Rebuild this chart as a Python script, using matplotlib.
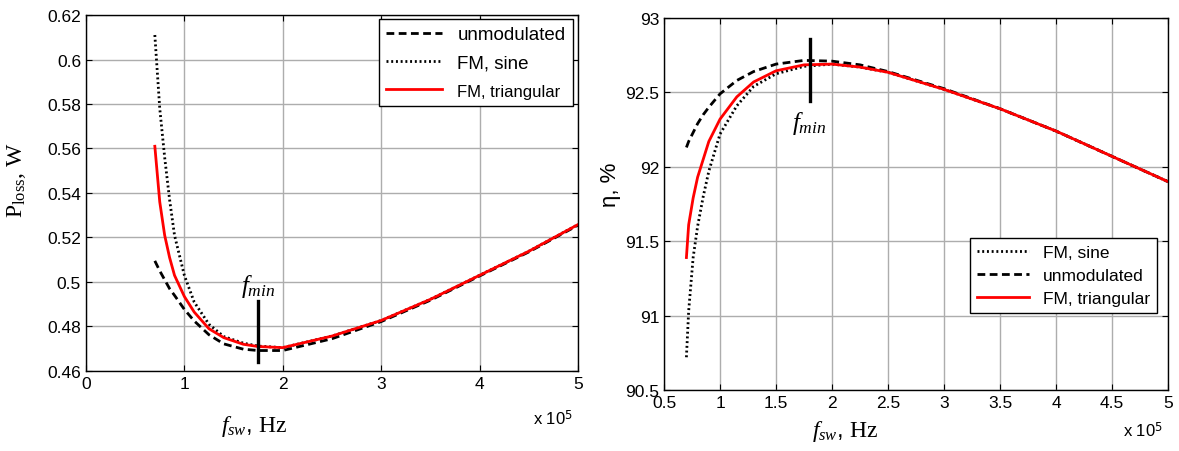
import matplotlib
matplotlib.use("Agg")
import matplotlib.pyplot as plt

plt.rcParams['font.family'] = ['Liberation Sans', 'DejaVu Sans']
plt.rcParams['mathtext.fontset'] = 'custom'
plt.rcParams['mathtext.rm'] = 'Liberation Serif'
plt.rcParams['mathtext.it'] = 'Liberation Serif:italic'

# f_sw in units of 1e5 Hz
f_left = [0.70, 0.75, 0.80, 0.85, 0.90, 1.0, 1.1, 1.25, 1.4, 1.6, 1.75, 2.0, 2.5, 3.0, 3.5, 4.0, 4.5, 5.0]
ploss_unmod = [0.5095, 0.505, 0.501, 0.497, 0.494, 0.4877, 0.4825, 0.4763, 0.4722, 0.4698, 0.4692, 0.4692,
               0.4745, 0.4822, 0.4918, 0.5027, 0.5135, 0.5255]
ploss_sine = [0.611, 0.578, 0.556, 0.537, 0.521, 0.503, 0.491, 0.481, 0.4755, 0.4725, 0.4712, 0.4705,
              0.4757, 0.4827, 0.4922, 0.5030, 0.5138, 0.5258]
ploss_tri = [0.561, 0.536, 0.521, 0.511, 0.503, 0.4935, 0.4865, 0.479, 0.4750, 0.4720, 0.4710, 0.4705,
             0.4757, 0.4827, 0.4922, 0.5030, 0.5138, 0.5258]

f_right = [0.70, 0.72, 0.76, 0.80, 0.85, 0.90, 1.0, 1.15, 1.3, 1.5, 1.75, 2.0, 2.25, 2.5, 3.0, 3.5, 4.0, 4.5, 5.0]
eta_unmod = [92.13, 92.17, 92.23, 92.29, 92.35, 92.40, 92.49, 92.58, 92.64, 92.69, 92.715, 92.71, 92.685,
             92.64, 92.525, 92.39, 92.24, 92.07, 91.90]
eta_sine = [90.72, 91.03, 91.39, 91.60, 91.80, 91.97, 92.22, 92.41, 92.54, 92.625, 92.675, 92.69, 92.67,
            92.635, 92.52, 92.39, 92.24, 92.07, 91.90]
eta_tri = [91.39, 91.61, 91.79, 91.93, 92.05, 92.17, 92.32, 92.47, 92.57, 92.645, 92.685, 92.69, 92.67,
           92.635, 92.52, 92.39, 92.24, 92.07, 91.90]

fmin_left = 1.75
fmin_right = 1.80

fig = plt.figure(figsize=(11.79, 4.52), dpi=100)
ax1 = fig.add_axes([0.0729, 0.177, 0.4173, 0.7876])
ax2 = fig.add_axes([0.5632, 0.135, 0.4275, 0.823])

lw = 2.0
dash = (0, (2.8, 1.6))
dot = (0, (0.7, 1.0))

ax1.plot(f_left, ploss_unmod, color='k', lw=lw, ls=dash, label='unmodulated')
ax1.plot(f_left, ploss_sine, color='k', lw=lw, ls=dot, label='FM, sine')
ax1.plot(f_left, ploss_tri, color='r', lw=lw, label='FM, triangular')
ax1.plot([fmin_left, fmin_left], [0.464, 0.4915], color='k', lw=2.4)
ax1.text(fmin_left, 0.4925, r'$f_{min}$', ha='center', va='bottom', fontsize=18)
ax1.set_xlim(0, 5)
ax1.set_ylim(0.46, 0.62)
ax1.set_xticks([0, 1, 2, 3, 4, 5])
ax1.set_yticks([0.46, 0.48, 0.5, 0.52, 0.54, 0.56, 0.58, 0.6, 0.62])
ax1.set_yticklabels(['0.46', '0.48', '0.5', '0.52', '0.54', '0.56', '0.58', '0.6', '0.62'])
ax1.set_ylabel(r'P$_{\mathrm{loss}}$, W', fontsize=17, family='Liberation Serif')
ax1.yaxis.set_label_coords(-0.118, 0.54)
ax1.set_xlabel(r'$f_{sw}$, $\mathrm{Hz}$', fontsize=17)
ax1.xaxis.set_label_coords(0.343, -0.118)
ax1.text(0.99, -0.13, r'x 10$^{\mathsf{5}}$', transform=ax1.transAxes, ha='right', va='center', fontsize=12)
leg1 = ax1.legend(loc='upper right', bbox_to_anchor=(0.99, 0.99), fontsize=13.5, fancybox=False,
                  edgecolor='k', framealpha=1, handlelength=3.0, borderaxespad=0, labelspacing=0.6)
leg1.get_frame().set_linewidth(1.0)
leg1.get_texts()[2].set_fontsize(12)

ax2.plot(f_right, eta_sine, color='k', lw=lw, ls=dot, label='FM, sine')
ax2.plot(f_right, eta_unmod, color='k', lw=lw, ls=dash, label='unmodulated')
ax2.plot(f_right, eta_tri, color='r', lw=lw, label='FM, triangular')
ax2.plot([fmin_right, fmin_right], [92.44, 92.86], color='k', lw=2.4)
ax2.text(fmin_right, 92.3, r'$f_{min}$', ha='center', va='center', fontsize=18)
ax2.set_xlim(0.5, 5)
ax2.set_ylim(90.5, 93)
ax2.set_xticks([0.5, 1, 1.5, 2, 2.5, 3, 3.5, 4, 4.5, 5])
ax2.set_xticklabels(['0.5', '1', '1.5', '2', '2.5', '3', '3.5', '4', '4.5', '5'])
ax2.set_yticks([90.5, 91, 91.5, 92, 92.5, 93])
ax2.set_yticklabels(['90.5', '91', '91.5', '92', '92.5', '93'])
ax2.set_ylabel('η, %', fontsize=16)
ax2.yaxis.set_label_coords(-0.086, 0.554)
ax2.set_xlabel(r'$f_{sw}$, $\mathrm{Hz}$', fontsize=17)
ax2.xaxis.set_label_coords(0.359, -0.076)
ax2.text(0.99, -0.107, r'x 10$^{\mathsf{5}}$', transform=ax2.transAxes, ha='right', va='center', fontsize=12)
leg2 = ax2.legend(loc='upper right', bbox_to_anchor=(0.978, 0.409), fontsize=12.5, fancybox=False,
                  edgecolor='k', framealpha=1, handlelength=3.0, borderaxespad=0, labelspacing=0.45)
leg2.get_frame().set_linewidth(1.0)

for ax in (ax1, ax2):
    ax.grid(True, color='0.68', lw=1.0)
    ax.tick_params(direction='in', top=True, right=True, labelsize=12.5, length=4)
    for s in ax.spines.values():
        s.set_linewidth(1.0)

fig.savefig('out.png', dpi=100)
